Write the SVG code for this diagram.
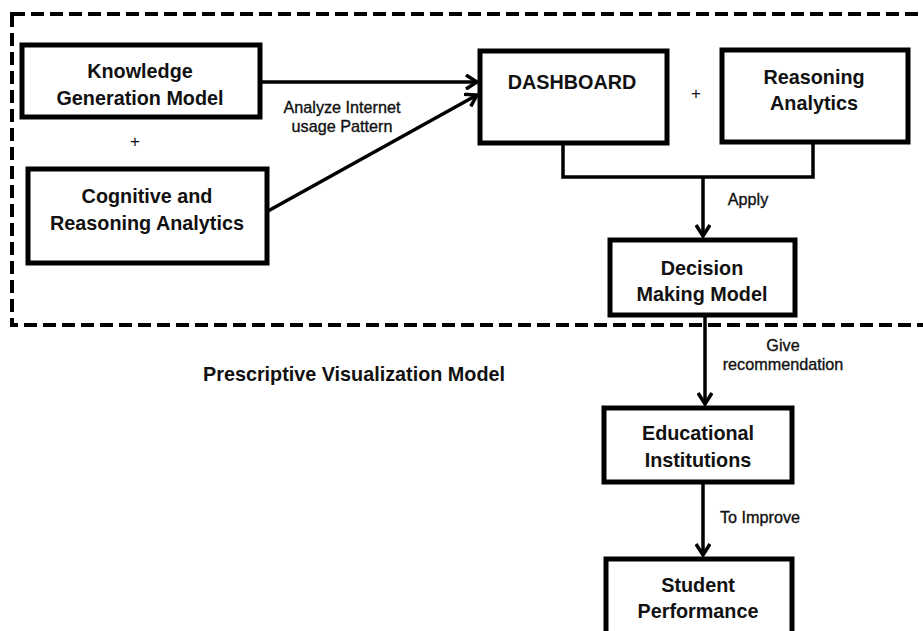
<svg xmlns="http://www.w3.org/2000/svg" width="923" height="631" viewBox="0 0 923 631">
<defs>
<style>
.box{fill:#fff;stroke:#000;stroke-width:5}
.t{font-family:"Liberation Sans",Arial,sans-serif;font-weight:bold;font-size:19.8px;fill:#111;text-anchor:middle}
.l{font-family:"Liberation Sans",Arial,sans-serif;font-size:16.2px;fill:#111;text-anchor:middle;stroke:#111;stroke-width:0.35}
.p{font-family:"Liberation Sans",Arial,sans-serif;font-size:17px;fill:#111;text-anchor:middle}
.c{fill:none;stroke:#000;stroke-width:3.5}
</style>
<marker id="ah" viewBox="0 0 14 16" refX="12" refY="8" markerWidth="14" markerHeight="16" markerUnits="userSpaceOnUse" orient="auto">
<path d="M1,1 L12,8 L1,15" fill="none" stroke="#000" stroke-width="3.5"/>
</marker>
</defs>
<rect width="923" height="631" fill="#fff"/>
<rect id="frame" x="12" y="14" width="940" height="311" fill="none" stroke="#000" stroke-width="4" stroke-dasharray="13,6"/>
<text class="t" x="354" y="381">Prescriptive Visualization Model</text>
<g id="connectors">
<line class="c" x1="260" y1="82" x2="477" y2="82" marker-end="url(#ah)"/>
<line class="c" x1="268" y1="211" x2="477" y2="95" marker-end="url(#ah)"/>
<polyline class="c" points="563,143 563,177 813,177 813,142"/>
<line class="c" x1="703" y1="177" x2="703" y2="236" marker-end="url(#ah)"/>
<line class="c" x1="705" y1="315" x2="705" y2="404" marker-end="url(#ah)"/>
<line class="c" x1="703" y1="482" x2="703" y2="555" marker-end="url(#ah)"/>
<text class="l" x="342" y="113">Analyze Internet</text>
<text class="l" x="342" y="132">usage Pattern</text>
<text class="l" x="748" y="205">Apply</text>
<text class="l" x="783" y="351">Give</text>
<text class="l" x="783" y="370">recommendation</text>
<text class="l" x="760" y="523">To Improve</text>
</g>
<text class="p" x="135" y="147">+</text>
<text class="p" x="696" y="99">+</text>
<g id="knowledge">
<rect class="box" x="22" y="45" width="238" height="72"/>
<text class="t" x="140" y="78">Knowledge</text>
<text class="t" x="140" y="105">Generation Model</text>
</g>
<g id="cognitive">
<rect class="box" x="28" y="169" width="239" height="94"/>
<text class="t" x="147" y="203">Cognitive and</text>
<text class="t" x="147" y="230">Reasoning Analytics</text>
</g>
<g id="dashboard">
<rect class="box" x="480" y="51" width="187" height="92"/>
<text class="t" x="572" y="89">DASHBOARD</text>
</g>
<g id="reasoning">
<rect class="box" x="722" y="50" width="186" height="92"/>
<text class="t" x="814" y="84">Reasoning</text>
<text class="t" x="814" y="110">Analytics</text>
</g>
<g id="decision">
<rect class="box" x="610" y="240" width="185" height="75"/>
<text class="t" x="702" y="275">Decision</text>
<text class="t" x="702" y="301">Making Model</text>
</g>
<g id="educational">
<rect class="box" x="604" y="408" width="188" height="74"/>
<text class="t" x="698" y="440">Educational</text>
<text class="t" x="698" y="467">Institutions</text>
</g>
<g id="student">
<rect class="box" x="606" y="559" width="186" height="80"/>
<text class="t" x="698" y="592">Student</text>
<text class="t" x="698" y="618">Performance</text>
</g>
</svg>
